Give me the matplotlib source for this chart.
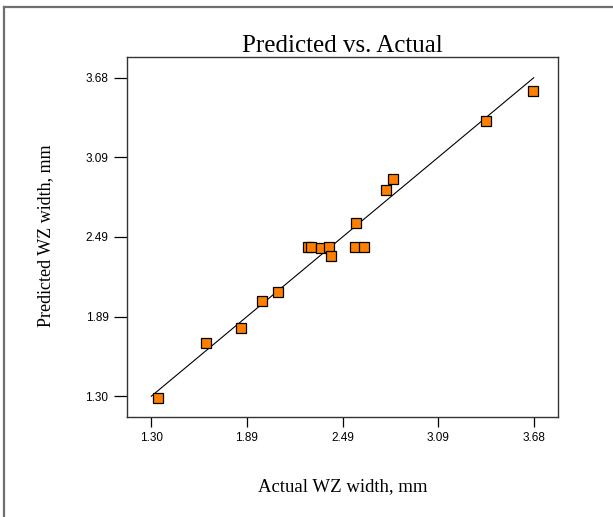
import matplotlib
matplotlib.use("Agg")
from matplotlib import pyplot as plt
from matplotlib.lines import Line2D

# actual vs predicted WZ width (mm)
actual = [1.34, 1.64, 1.86, 1.99, 2.09, 2.275, 2.295, 2.355, 2.405, 2.417,
          2.565, 2.571, 2.623, 2.758, 2.805, 3.38, 3.673]
predicted = [1.29, 1.70, 1.81, 2.01, 2.08, 2.418, 2.418, 2.408, 2.418, 2.348,
             2.418, 2.595, 2.418, 2.842, 2.92, 3.358, 3.583]

# reference line y = x
fit_x = [1.30, 3.68]
fit_y = [1.30, 3.68]

tick_values = [1.30, 1.895, 2.49, 3.085, 3.68]
tick_labels = ["1.30", "1.89", "2.49", "3.09", "3.68"]
axis_limits = (1.147, 3.833)


def draw_chart():
    """
    Predicted vs. actual scatter with the 45 degree line.
    """
    fig = plt.figure(figsize=(6.13, 5.17), dpi=100)
    ax = fig.add_axes([0.2067, 0.194, 0.7041, 0.6952])

    # outer frame (left and top edges only show in the reference)
    frame_color = "#6e6e6e"
    fig.add_artist(Line2D([0.0065, 0.0065], [0.0, 0.9874], transform=fig.transFigure,
                          color=frame_color, linewidth=1.6))
    fig.add_artist(Line2D([0.0065, 1.0], [0.9874, 0.9874], transform=fig.transFigure,
                          color=frame_color, linewidth=1.6))

    ax.plot(fit_x, fit_y, color="black", linewidth=0.8, zorder=2)
    ax.plot(actual, predicted, linestyle="none", marker="s", markersize=6.8,
            markerfacecolor="#ff8000", markeredgecolor="black",
            markeredgewidth=0.9, zorder=3)

    ax.set_xlim(*axis_limits)
    ax.set_ylim(*axis_limits)
    ax.set_xticks(tick_values)
    ax.set_xticklabels(tick_labels)
    ax.set_yticks(tick_values)
    ax.set_yticklabels(tick_labels)

    for spine in ax.spines.values():
        spine.set_color("#333333")
        spine.set_linewidth(1.0)

    ax.tick_params(axis="x", direction="out", length=7.2, width=0.9, pad=3.5,
                   labelsize=8.5, colors="black")
    ax.tick_params(axis="y", direction="out", length=9.6, width=0.9, pad=3.5,
                   labelsize=8.5, colors="black")
    for lbl in ax.get_xticklabels() + ax.get_yticklabels():
        lbl.set_family("Liberation Sans")

    serif = "Liberation Serif"
    ax.set_title("Predicted vs. Actual", fontsize=18, family=serif, pad=3)
    ax.set_xlabel("Actual WZ width, mm", fontsize=13.5, family=serif, va="center")
    ax.xaxis.set_label_coords(0.5, -0.1956)
    ax.set_ylabel("Predicted WZ width, mm", fontsize=13, family=serif,
                  ha="center", va="center")
    ax.yaxis.set_label_coords(-0.189, 0.504)

    fig.savefig("out.png", dpi=100)


if __name__ == '__main__':
    draw_chart()
